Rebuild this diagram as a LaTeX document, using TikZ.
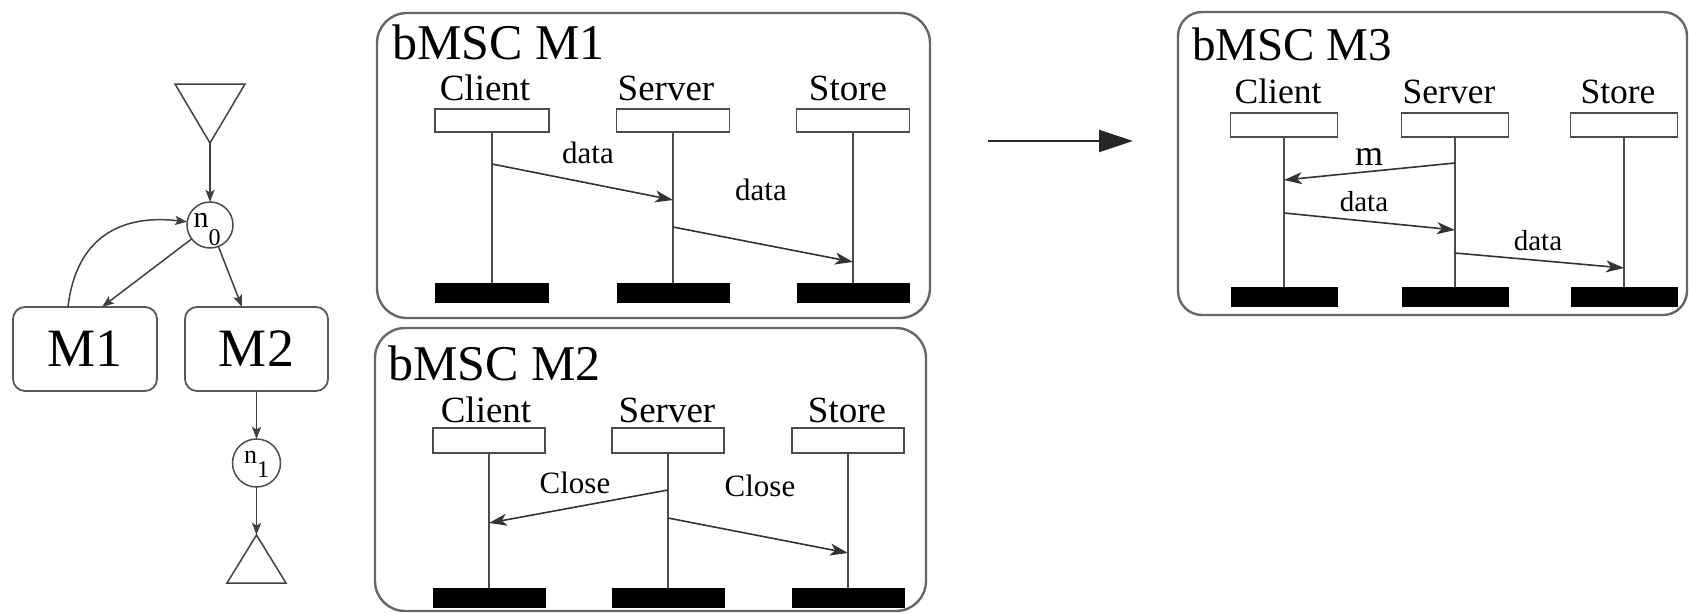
\documentclass[tikz,border=0pt]{standalone}
\usepackage{fontspec}
\setmainfont{Liberation Serif}
\usetikzlibrary{arrows.meta,calc}

\begin{document}
\begin{tikzpicture}[x=1pt,y=-1pt,
  every node/.style={inner sep=0pt, outer sep=0pt},
  % HMSC graph
  gline/.style={draw=black!75, line width=1.5pt},
  garrow/.style={gline, -{Stealth[length=12pt,width=9pt,inset=2.5pt]}},
  gstate/.style={circle, draw=black!70, line width=1.5pt, minimum size=#1},
  gbox/.style={draw=black!65, line width=1.8pt, rounded corners=12pt,
               font=\fontsize{54}{54}\selectfont},
  % bMSC panels
  panel/.style={draw=black!60, line width=2.4pt, rounded corners=#1},
  head/.style={draw=black!70, line width=1.8pt, fill=white,
               minimum width=#1, minimum height=24pt},
  endbar/.style={fill=black, minimum width=#1, minimum height=20pt},
  life/.style={draw=black!70, line width=1.8pt},
  msg/.style={draw=black!80, line width=1.6pt,
              -{Stealth[length=18pt,width=12pt,inset=5pt]}},
  ttl/.style={anchor=base west, font=\fontsize{#1}{#1}\selectfont},
  lbl/.style={anchor=base, font=\fontsize{#1}{#1}\selectfont}
]
\useasboundingbox (0,0) rectangle (1689,613);

% ---------- HMSC graph ----------
\draw[gline] (175,84) -- (245,84) -- (210,143) -- cycle;
\coordinate (topv) at (210,143);
\node[gstate=46pt, font=\fontsize{30}{30}\selectfont, text height=16pt, text depth=12pt]
  (n0) at (210,225) {n\raisebox{-18pt}{\fontsize{24}{24}\selectfont 0}\kern6pt};
\node[gbox, minimum width=144pt, minimum height=84pt] (M1) at (85,349) {M1};
\node[gbox, minimum width=143pt, minimum height=84pt] (M2) at (256.5,349) {M2};
\node[gstate=48pt, font=\fontsize{26}{26}\selectfont, text height=14pt, text depth=14pt]
  (n1) at (256.5,463) {n\raisebox{-14pt}{\fontsize{24}{24}\selectfont 1}};
\draw[gline] (227,583) -- (286,583) -- (256.5,535) -- cycle;
\coordinate (botv) at (256.5,535);
\coordinate (m1in) at (102,307);
\coordinate (m1out) at (68,307);
\coordinate (m2in) at (242,307);

\draw[garrow] (topv) -- (n0);
\draw[garrow] (n0) -- (m1in);
\draw[garrow] (n0) -- (m2in);
\draw[garrow] (m1out) .. controls (76,238) and (120,214) .. (n0.172);
\draw[garrow] (M2) -- (n1);
\draw[garrow] (n1) -- (botv);

% ---------- bMSC M1 ----------
\draw[panel=30pt] (377,13) rectangle (930,318);
\node[ttl=50] (t1) at (392,59) {bMSC M1};
\node[lbl=37] (l1a) at (485,100) {Client};
\node[lbl=37] (l1b) at (666,100) {Server};
\node[lbl=37] (l1c) at (848,100) {Store};
\node[head=114pt, minimum height=23pt] (h1a) at (492,120.5) {};
\node[head=113pt, minimum height=23pt] (h1b) at (673,120.5) {};
\node[head=113pt, minimum height=23pt] (h1c) at (853,120.5) {};
\node[endbar=114pt] (b1a) at (492,293) {};
\node[endbar=113pt] (b1b) at (673,293) {};
\node[endbar=113pt] (b1c) at (853,293) {};
\draw[life] (h1a) -- (b1a);
\draw[life] (h1b) -- (b1b);
\draw[life] (h1c) -- (b1c);
\coordinate (p1a) at (492,164);
\coordinate (p1b) at (673,200);
\coordinate (p1c) at (673,227);
\coordinate (p1d) at (853,262);
\draw[msg] (p1a) -- (p1b);
\draw[msg] (p1c) -- (p1d);
\node[lbl=31] (d1a) at (588,163) {data};
\node[lbl=31] (d1b) at (761,200) {data};

% ---------- bMSC M2 ----------
\draw[panel=30pt] (375,328) rectangle (926,611);
\node[ttl=50] (t2) at (388,380) {bMSC M2};
\node[lbl=37] (l2a) at (486,422) {Client};
\node[lbl=37] (l2b) at (667,422) {Server};
\node[lbl=37] (l2c) at (847,422) {Store};
\node[head=112pt, minimum height=25pt] (h2a) at (489,440.5) {};
\node[head=112pt, minimum height=25pt] (h2b) at (668,440.5) {};
\node[head=112pt, minimum height=25pt] (h2c) at (848,440.5) {};
\node[endbar=113pt] (b2a) at (489,598) {};
\node[endbar=113pt] (b2b) at (668,598) {};
\node[endbar=113pt] (b2c) at (848,598) {};
\draw[life] (h2a) -- (b2a);
\draw[life] (h2b) -- (b2b);
\draw[life] (h2c) -- (b2c);
\coordinate (p2a) at (668,490);
\coordinate (p2b) at (489,523);
\coordinate (p2c) at (668,518);
\coordinate (p2d) at (848,553);
\draw[msg] (p2a) -- (p2b);
\draw[msg] (p2c) -- (p2d);
\node[lbl=31] (c2a) at (575,493) {Close};
\node[lbl=31] (c2b) at (760,496) {Close};

% ---------- transformation arrow ----------
\coordinate (aL) at (988,141);
\coordinate (aR) at (1133,141);
\draw[draw=black!85, line width=2pt, -{Triangle[length=34pt,width=22pt]}] (aL) -- (aR);

% ---------- bMSC M3 ----------
\draw[panel=24pt] (1178,12) rectangle (1687,315);
\node[ttl=47] (t3) at (1192,60) {bMSC M3};
\node[lbl=35.5] (l3a) at (1278,103) {Client};
\node[lbl=35.5] (l3b) at (1449,103) {Server};
\node[lbl=35.5] (l3c) at (1618,103) {Store};
\node[head=107pt] (h3a) at (1284,125) {};
\node[head=107pt] (h3b) at (1455,125) {};
\node[head=107pt] (h3c) at (1624,125) {};
\node[endbar=107pt] (b3a) at (1284,297) {};
\node[endbar=107pt] (b3b) at (1455,297) {};
\node[endbar=107pt] (b3c) at (1624,297) {};
\draw[life] (h3a) -- (b3a);
\draw[life] (h3b) -- (b3b);
\draw[life] (h3c) -- (b3c);
\coordinate (p3a) at (1455,163);
\coordinate (p3b) at (1284,180);
\coordinate (p3c) at (1284,213);
\coordinate (p3d) at (1455,230);
\coordinate (p3e) at (1455,253);
\coordinate (p3f) at (1624,268);
\draw[msg] (p3a) -- (p3b);
\draw[msg] (p3c) -- (p3d);
\draw[msg] (p3e) -- (p3f);
\node[lbl=36] (m3a) at (1369,165) {m};
\node[lbl=29] (d3a) at (1364,211) {data};
\node[lbl=29] (d3b) at (1538,250) {data};
\end{tikzpicture}
\end{document}
